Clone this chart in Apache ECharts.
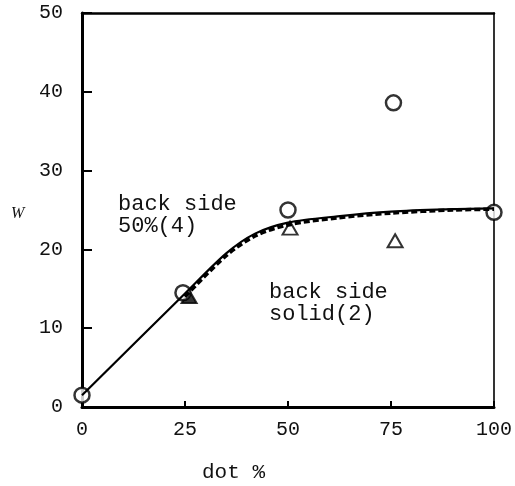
<!DOCTYPE html>
<html>
<head>
<meta charset="utf-8">
<script src="https://cdn.jsdelivr.net/npm/echarts@6/dist/echarts.min.js"></script>
<style>
html,body{margin:0;padding:0;background:#fff;overflow:hidden;}
#c{width:515px;height:486px;}
</style>
</head>
<body>
<div id="c"></div>
<script>
// Data
const xTicks = [0, 25, 50, 75, 100];
const yTicks = [0, 10, 20, 30, 40, 50];
const circleX = [0, 24.5, 50, 75.6, 100];
const circleY = [1.5, 14.5, 25.0, 38.6, 24.7];
const triX = [26, 50.5, 76];
const triY = [14.0, 22.7, 21.1];
const triFilled = [true, false, false];
const solidX = [0, 25, 35, 42, 50, 62, 75, 90, 100];
const solidY = [1.5, 14.4, 19.5, 22.0, 23.4, 24.2, 24.8, 25.1, 25.2];
const dashX = [25, 35, 42, 50, 62, 75, 90, 100];
const dashY = [14.0, 19.2, 21.7, 23.1, 24.0, 24.6, 25.0, 25.1];
const annot1 = ['back side', '50%(4)'];
const annot2 = ['back side', 'solid(2)'];
const xName = 'dot %';
const yName = 'W';

const zip = (a, b) => a.map((v, i) => [v, b[i]]);
const mono = '"Liberation Mono", "DejaVu Sans Mono", monospace';

const chart = echarts.init(document.getElementById('c'), null, {renderer: 'canvas', width: 515, height: 486});
chart.setOption({
  animation: false,
  backgroundColor: '#fff',
  grid: {left: 82, right: 11, top: 13, bottom: 79, containLabel: false},
  xAxis: [{
    type: 'value', min: xTicks[0], max: xTicks[xTicks.length - 1], interval: 25,
    axisLine: {show: true, onZero: false, lineStyle: {color: '#000', width: 3}},
    axisTick: {show: true, inside: true, length: 6, lineStyle: {color: '#000', width: 2}},
    axisLabel: {color: '#111', fontFamily: mono, fontSize: 20, margin: 13},
    splitLine: {show: false}
  }, {
    type: 'value', position: 'top', min: 0, max: 100,
    axisLine: {show: true, onZero: false, lineStyle: {color: '#000', width: 2.5}},
    axisTick: {show: false}, axisLabel: {show: false}, splitLine: {show: false}
  }],
  yAxis: [{
    type: 'value', min: yTicks[0], max: yTicks[yTicks.length - 1], interval: 10,
    axisLine: {show: true, onZero: false, lineStyle: {color: '#000', width: 3}},
    axisTick: {show: true, inside: true, length: 10, lineStyle: {color: '#000', width: 2}},
    axisLabel: {color: '#111', fontFamily: mono, fontSize: 20, margin: 19},
    splitLine: {show: false}
  }, {
    type: 'value', position: 'right', min: 0, max: 50,
    axisLine: {show: true, onZero: false, lineStyle: {color: '#000', width: 1.6}},
    axisTick: {show: false}, axisLabel: {show: false}, splitLine: {show: false}
  }],
  series: [
    {
      type: 'scatter', z: 2,
      data: zip(triX, triY).map((p, i) => ({value: p, itemStyle: {color: triFilled[i] ? '#000' : '#fff'}})),
      symbol: 'triangle', symbolSize: [15, 13],
      itemStyle: {borderColor: '#000', borderWidth: 2}
    },
    {
      type: 'scatter', z: 3,
      data: zip(circleX, circleY),
      symbol: 'circle', symbolSize: 15,
      itemStyle: {color: '#fff', borderColor: '#000', borderWidth: 2.5}
    },
    {
      type: 'line', z: 4, data: zip(dashX, dashY), smooth: 0.3,
      symbol: 'none', lineStyle: {color: '#000', width: 3.5, type: [6, 3]}
    },
    {
      type: 'line', z: 5, data: zip(solidX, solidY), smooth: 0.3,
      symbol: 'none', lineStyle: {color: '#000', width: 2.2}
    }
  ],
  graphic: [
    {type: 'text', left: 118, top: 193, style: {text: annot1.join('\n'), font: '22px ' + mono, fill: '#111', lineHeight: 22}},
    {type: 'text', left: 269, top: 281, style: {text: annot2.join('\n'), font: '22px ' + mono, fill: '#111', lineHeight: 22}},
    {type: 'text', left: 202, top: 462, style: {text: xName, font: '21px ' + mono, fill: '#111'}},
    {type: 'text', left: 11, top: 206, style: {text: yName, font: 'italic 16px "Liberation Serif", serif', fill: '#111'}}
  ]
});
</script>
</body>
</html>
